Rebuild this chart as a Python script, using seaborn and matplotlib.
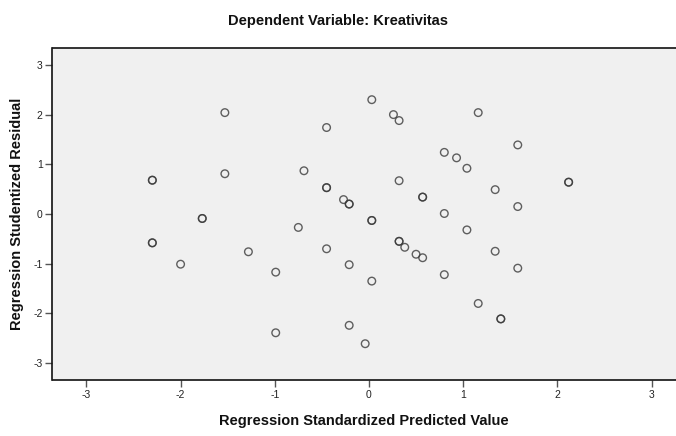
import matplotlib
matplotlib.use("Agg")
import matplotlib.pyplot as plt
import seaborn as sns
import pandas as pd

sns.set_theme(style="white")
plt.rcParams['font.family'] = ['Liberation Sans', 'DejaVu Sans']

title = "Dependent Variable: Kreativitas"
x_label = "Regression Standardized Predicted Value"
y_label = "Regression Studentized Residual"

predicted = [0.03, -1.53, 0.26, 0.32, -0.45, -0.69, -2.30, -2.30, -1.53, 0.32,
             -0.45, -0.45, -0.27, -0.21, -0.21, -1.77, -1.77, -0.75, 0.03, 0.03,
             1.16, 1.58, 0.80, 0.93, 1.04, 2.12, 2.12, 0.57, 0.57, 1.34,
             1.58, 0.80, 1.04, -2.30, -2.30, 0.32, 0.32, 0.38, -2.00, -1.28,
             -0.99, -0.45, -0.21, 0.03, -0.99, -0.21, -0.04, 0.50, 0.57, 1.34,
             1.58, 0.80, 1.16, 1.40, 1.40]
residual = [2.30, 2.04, 2.00, 1.88, 1.74, 0.87, 0.68, 0.68, 0.81, 0.67,
            0.53, 0.53, 0.29, 0.20, 0.20, -0.09, -0.09, -0.27, -0.13, -0.13,
            2.04, 1.39, 1.24, 1.13, 0.92, 0.64, 0.64, 0.34, 0.34, 0.49,
            0.15, 0.01, -0.32, -0.58, -0.58, -0.55, -0.55, -0.67, -1.01, -0.76,
            -1.17, -0.70, -1.02, -1.35, -2.39, -2.24, -2.61, -0.81, -0.88, -0.75,
            -1.09, -1.22, -1.80, -2.11, -2.11]
ticks = [-3, -2, -1, 0, 1, 2, 3]

df = pd.DataFrame({"pred": predicted, "resid": residual})

W, H = 676, 436
fig = plt.figure(figsize=(W / 100, H / 100), dpi=100)
ax = fig.add_axes([52.5 / W, 56 / H, (W - 52.5) / W, 332 / H])
ax.set_facecolor("#F0F0F0")

sns.scatterplot(data=df, x="pred", y="resid", ax=ax, marker="o", s=30,
                facecolors="none", edgecolor="#3a3a3a", linewidth=1.0, alpha=0.8)

ax.set_xlim(-3.36, 3.26)
ax.set_ylim(-3.34, 3.34)
ax.set_xticks(ticks)
ax.set_yticks(ticks)
ax.set_xticklabels([str(t) for t in ticks])
ax.set_yticklabels([str(t) for t in ticks])
ax.tick_params(axis="both", direction="out", length=5, width=1, color="#555555",
               labelsize=7.5, labelcolor="#222222", pad=2, bottom=True, left=True)
for side in ["left", "bottom", "top"]:
    ax.spines[side].set_color("#111111")
    ax.spines[side].set_linewidth(1.2)
ax.spines["right"].set_visible(False)

ax.set_xlabel(x_label, fontsize=10.5, fontweight="bold", labelpad=10, color="#111111")
ax.set_ylabel(y_label, fontsize=10.5, fontweight="bold", labelpad=7, color="#111111")
fig.text(338 / W, 1 - 21 / H, title, ha="center", va="center",
         fontsize=10.5, fontweight="bold", color="#111111")

fig.savefig("out.png", dpi=100, facecolor="white")
